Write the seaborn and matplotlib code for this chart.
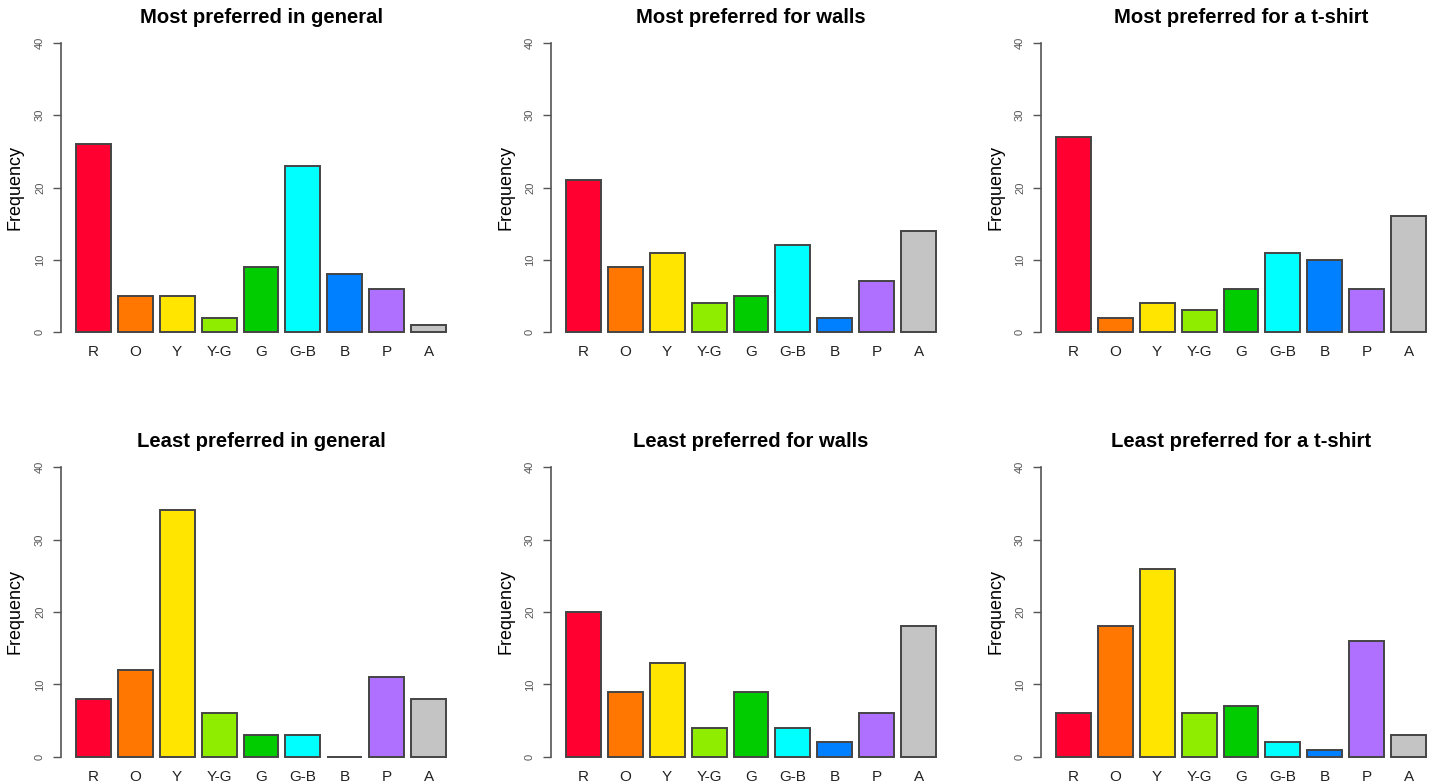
import matplotlib
matplotlib.use("Agg")
import matplotlib.pyplot as plt
import seaborn as sns
import pandas as pd

sns.set_style("white")
plt.rcParams['font.family'] = ['Liberation Sans', 'DejaVu Sans']
plt.rcParams['text.color'] = 'black'

colours = ['R', 'O', 'Y', 'Y-G', 'G', 'G-B', 'B', 'P', 'A']
palette = ['#FF0030', '#FF7700', '#FFE500', '#8FEE00', '#00CC00',
           '#00FFFF', '#0080FF', '#B070FF', '#C4C4C4']

titles = ['Most preferred in general', 'Most preferred for walls', 'Most preferred for a t-shirt',
          'Least preferred in general', 'Least preferred for walls', 'Least preferred for a t-shirt']

most_general = [26, 5, 5, 2, 9, 23, 8, 6, 1]
most_walls = [21, 9, 11, 4, 5, 12, 2, 7, 14]
most_tshirt = [27, 2, 4, 3, 6, 11, 10, 6, 16]
least_general = [8, 12, 34, 6, 3, 3, 0, 11, 8]
least_walls = [20, 9, 13, 4, 9, 4, 2, 6, 18]
least_tshirt = [6, 18, 26, 6, 7, 2, 1, 16, 3]

series = [most_general, most_walls, most_tshirt, least_general, least_walls, least_tshirt]

W, H = 1440, 784
fig = plt.figure(figsize=(W / 100, H / 100), dpi=100)

# axes boxes in pixels
lefts = [61, 551, 1041]
rows = [(31.4, 312.2), (455.4, 313.2)]

for i, (title, vals) in enumerate(zip(titles, series)):
    r, c = divmod(i, 3)
    top, h = rows[r]
    ax = fig.add_axes([lefts[c] / W, 1 - (top + h) / H, 400 / W, h / H])
    df = pd.DataFrame({'colour': colours, 'freq': vals})
    sns.barplot(data=df, x='colour', y='freq', hue='colour', palette=palette,
                legend=False, width=1 / 1.2, edgecolor='#444444', linewidth=1.4,
                saturation=1, ax=ax)
    ax.set_xlim(-0.77, 8.77)
    ax.set_ylim(-1.6, 41.6)
    ax.set_yticks([0, 10, 20, 30, 40])
    ax.tick_params(axis='y', direction='out', length=5.5, width=1, color='#555555',
                   labelsize=8, labelcolor='#555555', pad=6, left=True)
    for lab in ax.get_yticklabels():
        lab.set_rotation(90)
        lab.set_va('center')
    ax.tick_params(axis='x', length=0, labelsize=11, labelcolor='#222222', pad=1)
    for s in ['top', 'right', 'bottom']:
        ax.spines[s].set_visible(False)
    ax.spines['left'].set_bounds(0, 40)
    ax.spines['left'].set_color('#555555')
    ax.spines['left'].set_linewidth(1.2)
    ax.set_xlabel('')
    ax.set_ylabel('Frequency', fontsize=13, color='black')
    ax.yaxis.set_label_coords(-37 / 400, 0.5)
    ax.set_title(title, fontsize=14.6, fontweight='bold', pad=6, color='black')

fig.savefig('out.png', dpi=100)
